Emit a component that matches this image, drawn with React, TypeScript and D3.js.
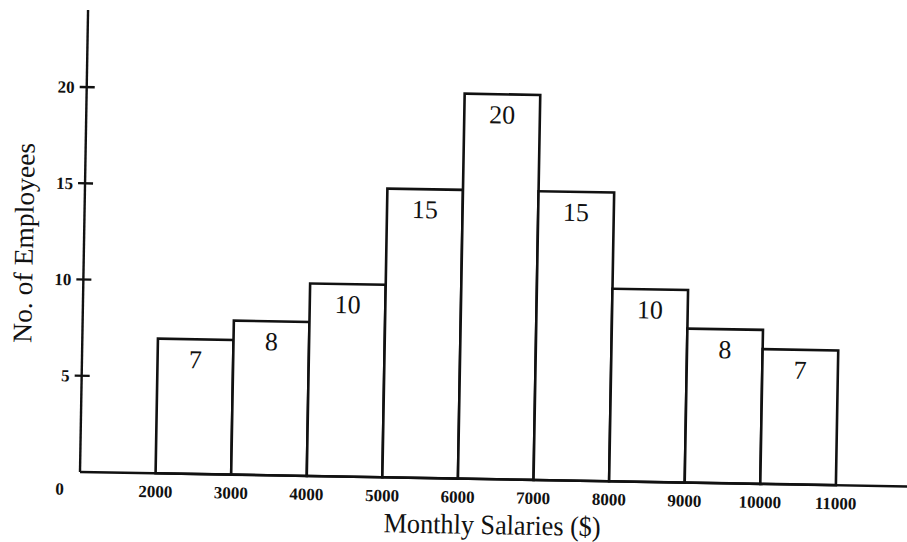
import React from "react";
import * as d3 from "d3";

const binStarts = [2000, 3000, 4000, 5000, 6000, 7000, 8000, 9000, 10000];
const binEnds = [3000, 4000, 5000, 6000, 7000, 8000, 9000, 10000, 11000];
const counts = [7, 8, 10, 15, 20, 15, 10, 8, 7];
const xTickValues = [2000, 3000, 4000, 5000, 6000, 7000, 8000, 9000, 10000, 11000];
const yTickValues = [5, 10, 15, 20];
const xTitle = "Monthly Salaries ($)";
const yTitle = "No. of Employees";

const W = 907;
const H = 542;
const FONT = "'Liberation Serif', 'DejaVu Serif', serif";

export default function App() {
  const x = d3.scaleLinear().domain([1000, 12000]).range([0, 831.6]);
  const y = d3.scaleLinear().domain([0, 24]).range([0, -462]);

  return (
    <svg
      width={W}
      height={H}
      viewBox={`0 0 ${W} ${H}`}
      style={{ position: "absolute", left: 0, top: 0, background: "#fff" }}
    >
      <rect x={0} y={0} width={W} height={H} fill="#fff" />
      <g transform="translate(80,472) rotate(1)" fontFamily={FONT}>
        {counts.map((c, i) => (
          <rect
            key={"b" + i}
            x={x(binStarts[i])}
            y={y(c)}
            width={x(binEnds[i]) - x(binStarts[i])}
            height={-y(c)}
            fill="#fff"
            stroke="#111"
            strokeWidth={2.6}
          />
        ))}
        {counts.map((c, i) => (
          <text
            key={"l" + i}
            x={(x(binStarts[i]) + x(binEnds[i])) / 2}
            y={y(c) + 20}
            dy="0.35em"
            textAnchor="middle"
            fontSize={26}
            fill="#111"
          >
            {c}
          </text>
        ))}
        <line x1={0} y1={0} x2={0} y2={y(24)} stroke="#111" strokeWidth={2.4} />
        <line x1={0} y1={0} x2={x(12000)} y2={0} stroke="#111" strokeWidth={2.4} />
        {yTickValues.map((v) => (
          <g key={"yt" + v}>
            <line x1={-7} x2={8} y1={y(v)} y2={y(v)} stroke="#111" strokeWidth={2.4} />
            <text
              x={-12}
              y={y(v)}
              dy="0.35em"
              textAnchor="end"
              fontSize={17}
              fontWeight="bold"
              fill="#111"
            >
              {v}
            </text>
          </g>
        ))}
        {xTickValues.map((v) => (
          <text
            key={"xt" + v}
            x={x(v)}
            y={18}
            dy="0.35em"
            textAnchor="middle"
            fontSize={17}
            fontWeight="bold"
            fill="#111"
          >
            {v}
          </text>
        ))}
        <text x={-20} y={17} dy="0.35em" textAnchor="middle" fontSize={17} fontWeight="bold" fill="#111">
          0
        </text>
        <text
          x={413}
          y={55}
          textAnchor="middle"
          fontSize={28}
          fill="#111"
          textLength={217}
          lengthAdjust="spacingAndGlyphs"
        >
          {xTitle}
        </text>
      </g>
      <text
        transform="translate(33,243) rotate(-89)"
        textAnchor="middle"
        fontSize={27}
        fontFamily={FONT}
        fill="#111"
        textLength={200}
        lengthAdjust="spacingAndGlyphs"
      >
        {yTitle}
      </text>
    </svg>
  );
}
